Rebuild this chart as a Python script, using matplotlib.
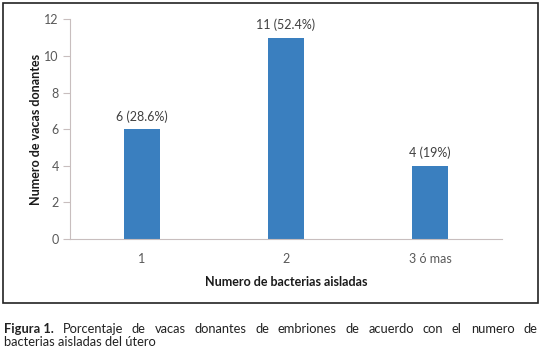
import matplotlib
matplotlib.use("Agg")
import matplotlib.pyplot as plt
from matplotlib.patches import Rectangle

categories = ["1", "2", "3 ó mas"]
values = [6, 11, 4]
labels = ["6 (28.6%)", "11 (52.4%)", "4 (19%)"]
yticks = [0, 2, 4, 6, 8, 10, 12]
caption_bold = "Figura 1."
caption_line1 = "Porcentaje de vacas donantes de embriones de acuerdo con el numero de"
caption_line2 = "bacterias aisladas del útero"

plt.rcParams['font.family'] = ['Lato', 'DejaVu Sans']

fig = plt.figure(figsize=(5.41, 3.51), dpi=100)
ax = fig.add_axes([70/541, 1-239/351, 432/541, (239-19.5)/351])

x = range(len(categories))
ax.bar(x, values, width=0.25, color="#3a7fbf", zorder=2)
for xi, v, lab in zip(x, values, labels):
    ax.text(xi, v + 0.35, lab, ha="center", va="bottom", fontsize=9, color="#404040")

ax.set_xlim(-0.5, 2.5)
ax.set_ylim(0, 12)
ax.set_yticks(yticks)
ax.set_xticks(list(x))
ax.set_xticklabels(categories)
ax.tick_params(axis="both", labelsize=9, colors="#595959", length=0)
ax.tick_params(axis="y", length=5, color="#c8bebe", pad=3)
ax.tick_params(axis="x", pad=10)
for s in ["top", "right"]:
    ax.spines[s].set_visible(False)
for s in ["left", "bottom"]:
    ax.spines[s].set_color("#c8bebe")
    ax.spines[s].set_linewidth(0.8)
ax.set_xlabel("Numero de bacterias aisladas", fontsize=9, fontweight="bold", color="#1a1a1a", labelpad=8)
ax.set_ylabel("Numero de vacas donantes", fontsize=9, fontweight="bold", color="#1a1a1a", labelpad=2)

fig.patches.append(Rectangle((3/541, 1-303/351), 535/541, 300/351, transform=fig.transFigure,
                             fill=False, edgecolor="#222222", linewidth=1.2))

# justified first caption line
fig.canvas.draw()
renderer = fig.canvas.get_renderer()
fs = 9.3
words = [(caption_bold, "bold")] + [(w, "normal") for w in caption_line1.split()]
txts = []
for w, wt in words:
    t = fig.text(0, 1-329/351, w, fontsize=fs, fontweight=wt, color="#222222", va="center", ha="left")
    txts.append(t)
widths = [t.get_window_extent(renderer).width for t in txts]
x0, x1 = 4, 537
gap = (x1 - x0 - sum(widths)) / (len(txts) - 1)
pos = x0
for t, w in zip(txts, widths):
    t.set_x(pos / 541)
    pos += w + gap
fig.text(4/541, 1-342/351, caption_line2, fontsize=fs, color="#222222", va="center", ha="left")

fig.savefig("out.png", dpi=100)
